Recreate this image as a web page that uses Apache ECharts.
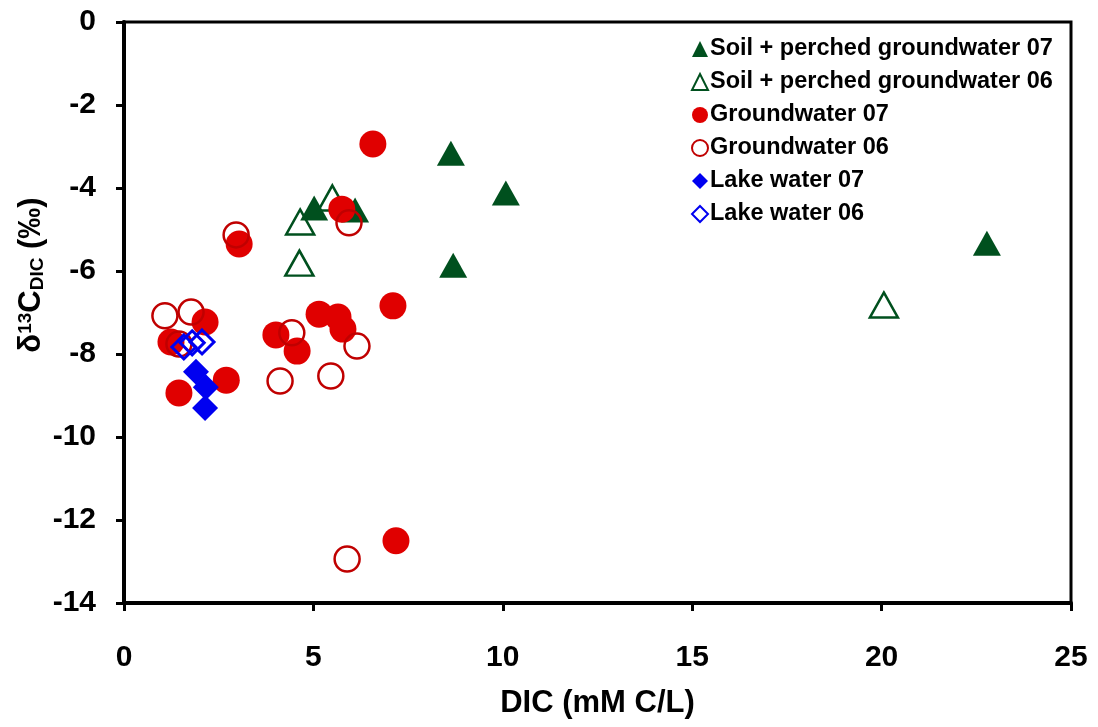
<!DOCTYPE html>
<html>
<head>
<meta charset="utf-8">
<script src="https://cdn.jsdelivr.net/npm/echarts@6/dist/echarts.min.js"></script>
<style>
html,body{margin:0;padding:0;background:#fff;}
#main{width:1098px;height:727px;}
</style>
</head>
<body>
<div id="main"></div>
<script>
// DIC (mM C/L), d13C (permil)
var soil07 = [[8.63,-3.16],[10.08,-4.12],[22.78,-5.33],[8.69,-5.86],[5.02,-4.48],[6.1,-4.53]];
var soil06 = [[5.5,-4.24],[4.65,-4.82],[4.63,-5.81],[20.06,-6.82]];
var gw07 = [[6.57,-2.94],[5.75,-4.51],[3.04,-5.35],[7.1,-6.84],[5.15,-7.04],[5.65,-7.11],
	[5.78,-7.4],[4.01,-7.54],[4.57,-7.93],[2.14,-7.23],[1.24,-7.71],[2.7,-8.63],[1.45,-8.94],[7.18,-12.5]];
var gw06 = [[5.94,-4.84],[2.96,-5.13],[1.08,-7.08],[1.77,-6.99],[4.43,-7.49],[6.15,-7.81],
	[4.12,-8.65],[5.46,-8.53],[5.89,-12.94],[1.45,-7.76]];
var lake07 = [[1.9,-8.43],[2.16,-8.8],[2.14,-9.3]];
var lake06 = [[1.58,-7.83],[1.8,-7.73],[2.06,-7.71]];

var green = '#00501E', red = '#E00000', ring = '#C00000', blue = '#0000F0';
var font = 'Liberation Sans, Arial, sans-serif';

var myChart = echarts.init(document.getElementById('main'));
var option = {
	backgroundColor: '#fff',
	animation: false,
	textStyle: {fontFamily: font},
	grid: {left: 124, top: 22, right: 27, bottom: 124, show: true, borderColor: '#000', borderWidth: 3},
	legend: {
		orient: 'vertical', left: 686, top: 31,
		itemWidth: 16, itemHeight: 16, itemGap: 7,
		textStyle: {fontSize: 23.5, fontWeight: 'bold', color: '#000', lineHeight: 26, padding: [0, 0, 0, -3]},
		data: ['Soil + perched groundwater 07','Soil + perched groundwater 06','Groundwater 07','Groundwater 06','Lake water 07','Lake water 06']
	},
	// y axis title drawn as rotated rich text
	graphic: [{
		type: 'text', x: 31, y: 275, rotation: Math.PI / 2,
		style: {
			text: '{n|δ}{sup|13}{n|C}{sub|DIC}{n| (‰)}',
			align: 'center', verticalAlign: 'middle',
			rich: {
				n: {fontSize: 31, fontWeight: 'bold', fill: '#000', fontFamily: font},
				sup: {fontSize: 19, fontWeight: 'bold', fill: '#000', verticalAlign: 'bottom', padding: [0, 0, 12, 0], fontFamily: font},
				sub: {fontSize: 19, fontWeight: 'bold', fill: '#000', verticalAlign: 'top', padding: [14, 0, 0, 0], fontFamily: font}
			}
		}
	}],
	xAxis: {
		type: 'value', min: 0, max: 25, interval: 5,
		name: 'DIC (mM C/L)', nameLocation: 'middle', nameGap: 85,
		nameTextStyle: {fontSize: 31, fontWeight: 'bold', color: '#000', verticalAlign: 'top'},
		axisLine: {onZero: false, lineStyle: {color: '#000', width: 4}},
		axisTick: {inside: false, length: 8, lineStyle: {color: '#000', width: 3}},
		axisLabel: {fontSize: 30, fontWeight: 'bold', color: '#000', margin: 40},
		splitLine: {show: false}
	},
	yAxis: {
		type: 'value', min: -14, max: 0, interval: 2,
		axisLine: {onZero: false, lineStyle: {color: '#000', width: 4}},
		axisTick: {inside: false, length: 8, lineStyle: {color: '#000', width: 3}},
		axisLabel: {fontSize: 30, fontWeight: 'bold', color: '#000', margin: 28},
		splitLine: {show: false}
	},
	series: [
		{name: 'Soil + perched groundwater 07', type: 'scatter', data: soil07, symbol: 'triangle', symbolSize: [28, 25],
			itemStyle: {color: green, opacity: 1}},
		{name: 'Soil + perched groundwater 06', type: 'scatter', data: soil06, symbol: 'triangle', symbolSize: [28, 25],
			itemStyle: {color: 'rgba(255,255,255,0)', borderColor: green, borderWidth: 2.5, opacity: 1}},
		{name: 'Groundwater 07', type: 'scatter', data: gw07, symbol: 'circle', symbolSize: 27,
			itemStyle: {color: red, opacity: 1}},
		{name: 'Groundwater 06', type: 'scatter', data: gw06, symbol: 'circle', symbolSize: 25,
			itemStyle: {color: 'rgba(255,255,255,0)', borderColor: ring, borderWidth: 2.5, opacity: 1}},
		{name: 'Lake water 07', type: 'scatter', data: lake07, symbol: 'diamond', symbolSize: 26,
			itemStyle: {color: blue, opacity: 1}},
		{name: 'Lake water 06', type: 'scatter', data: lake06, symbol: 'diamond', symbolSize: 24,
			itemStyle: {color: 'rgba(255,255,255,0)', borderColor: blue, borderWidth: 3, opacity: 1}}
	]
};
myChart.setOption(option);
</script>
</body>
</html>
